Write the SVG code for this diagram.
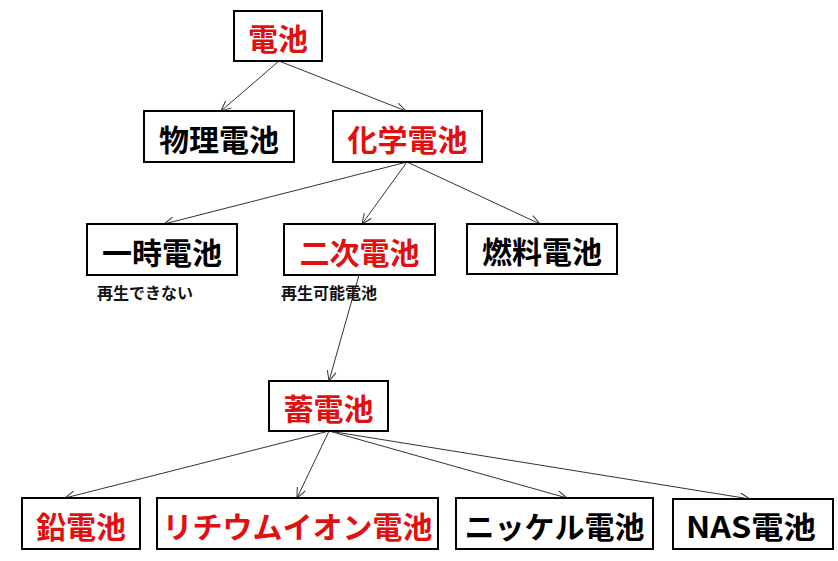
<svg xmlns="http://www.w3.org/2000/svg" width="838" height="561" viewBox="0 0 838 561">
<style>
.box{fill:#fff;stroke:#000;stroke-width:2}
.t{font-family:"Noto Sans CJK JP","Noto Sans",sans-serif;font-size:30px;font-weight:bold;text-anchor:middle}
.red{fill:#e01010}
.blk{fill:#000}
.note{font-family:"Noto Sans CJK JP","Noto Sans",sans-serif;font-size:16px;font-weight:bold;fill:#111}
.conn line{stroke:#333;stroke-width:1;marker-end:url(#arr)}
</style>
<defs>
<marker id="arr" markerUnits="userSpaceOnUse" markerWidth="14" markerHeight="12" refX="11" refY="5" orient="auto" viewBox="0 0 14 12">
<path d="M1,0.5 L11,5 L1,9.5" fill="none" stroke="#333" stroke-width="1"/>
</marker>
</defs>
<rect width="838" height="561" fill="#fff"/>
<g id="connectors" class="conn">
<line x1="279" y1="61" x2="221" y2="111"/>
<line x1="279" y1="61" x2="406" y2="111"/>
<line x1="407" y1="162" x2="164" y2="224"/>
<line x1="407" y1="162" x2="362" y2="224"/>
<line x1="407" y1="162" x2="540" y2="224"/>
<line x1="359" y1="275" x2="329" y2="381"/>
<line x1="329" y1="431" x2="65" y2="498"/>
<line x1="329" y1="431" x2="297" y2="498"/>
<line x1="329" y1="431" x2="567" y2="498"/>
<line x1="329" y1="431" x2="750" y2="499"/>
</g>
<g id="n-denchi"><rect class="box" x="234" y="11" width="88" height="50"/><text class="t red" x="278" y="50">電池</text></g>
<g id="n-butsuri"><rect class="box" x="144" y="111" width="150" height="51"/><text class="t blk" x="219" y="150.5">物理電池</text></g>
<g id="n-kagaku"><rect class="box" x="333" y="111" width="149" height="51"/><text class="t red" x="407.5" y="150.5">化学電池</text></g>
<g id="n-ichiji"><rect class="box" x="87" y="224" width="150" height="51"/><text class="t blk" x="162" y="263.5">一時電池</text></g>
<g id="n-niji"><rect class="box" x="284" y="224" width="151" height="51"/><text class="t red" x="359.5" y="263.5">二次電池</text></g>
<g id="n-nenryo"><rect class="box" x="467" y="224" width="150" height="50"/><text class="t blk" x="542" y="263">燃料電池</text></g>
<g id="note-ichiji"><text class="note" x="97" y="299">再生できない</text></g>
<g id="note-niji"><text class="note" x="281" y="299">再生可能電池</text></g>
<g id="n-chiku"><rect class="box" x="269" y="381" width="119" height="50"/><text class="t red" x="328.5" y="420">蓄電池</text></g>
<g id="n-namari"><rect class="box" x="22" y="498" width="118" height="51"/><text class="t red" x="81" y="537.5">鉛電池</text></g>
<g id="n-lithium"><rect class="box" x="157" y="498" width="281" height="51"/><text class="t red" x="297.5" y="537.5">リチウムイオン電池</text></g>
<g id="n-nickel"><rect class="box" x="456" y="498" width="197" height="51"/><text class="t blk" x="554.5" y="537.5">ニッケル電池</text></g>
<g id="n-nas"><rect class="box" x="673" y="499" width="160" height="50"/><text class="t blk" x="751" y="538" textLength="130" lengthAdjust="spacingAndGlyphs">NAS電池</text></g>
</svg>
